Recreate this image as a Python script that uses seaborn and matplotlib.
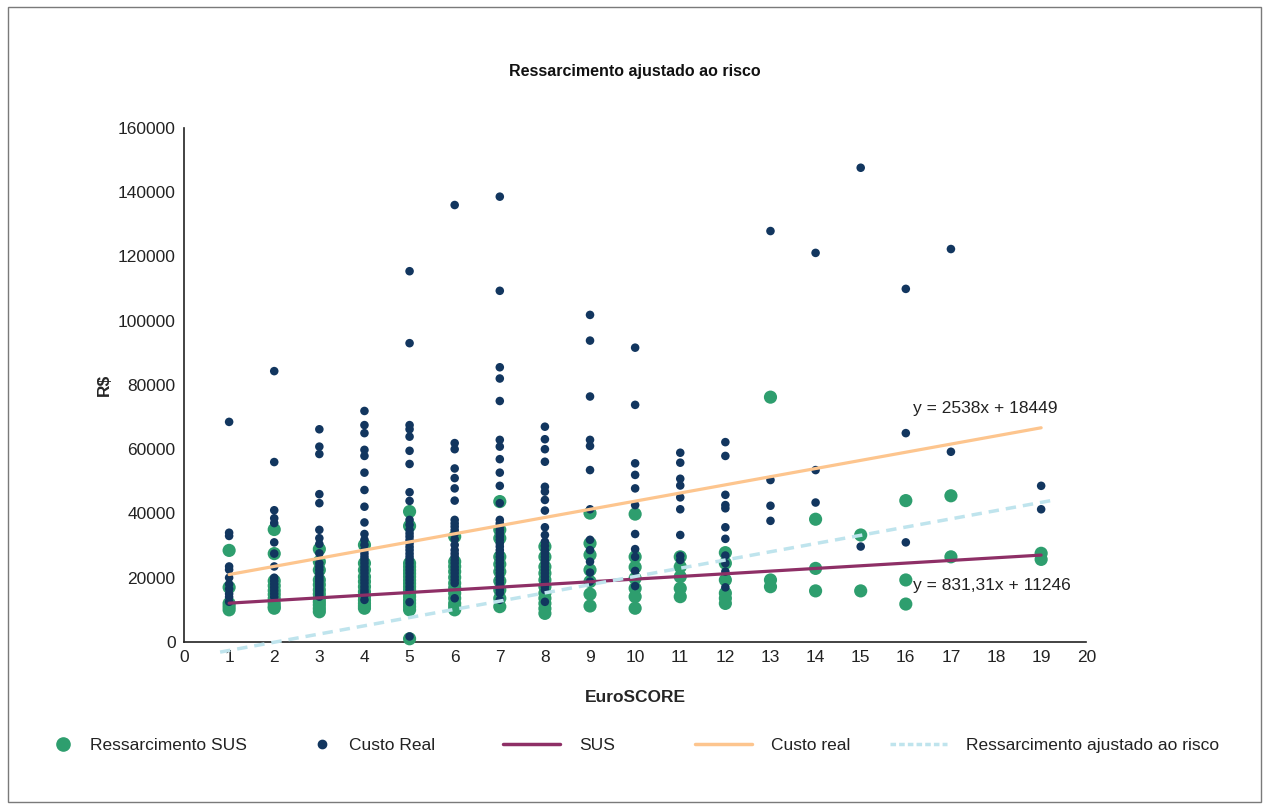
import matplotlib
matplotlib.use("Agg")
import matplotlib.pyplot as plt
from matplotlib.patches import Rectangle
from matplotlib.lines import Line2D
import numpy as np
import pandas as pd
import seaborn as sns

# Reimbursement paid by SUS per EuroSCORE value (R$)
sus_by_score = {
    1: [28500, 17000, 12000, 11000, 10000],
    2: [35000, 27500, 19000, 17500, 16000, 14800, 13500, 12000, 11000, 10500],
    3: [28900, 25000, 22400, 19300, 17800, 16200, 14900, 13600, 12500, 11500,
        10400, 9400],
    4: [30200, 24500, 22400, 20300, 18800, 17200, 15600, 14100, 13000, 12000,
        11200, 10500],
    5: [40600, 36100, 24500, 23400, 22300, 21300, 20300, 19200, 18200, 17200,
        16200, 15200, 14100, 13000, 12000, 11000, 10000, 1000],
    6: [32800, 25000, 23500, 21900, 20100, 18300, 16800, 15200, 13600, 12000,
        11000, 10000],
    7: [43700, 34900, 32300, 26500, 24200, 21900, 19000, 16200, 13600, 11000],
    8: [29700, 26500, 23400, 21400, 19300, 17200, 15200, 13600, 12000, 10400,
        8900],
    9: [40100, 30700, 27100, 22400, 18800, 14900, 11200],
    10: [39800, 26500, 23300, 19800, 16700, 14100, 10500],
    11: [26500, 23400, 20300, 16700, 14100],
    12: [27800, 24500, 19300, 15200, 13600, 12000],
    13: [76200, 19300, 17200],
    14: [38200, 22900, 15900],
    15: [33300, 15900],
    16: [44000, 19300, 11800],
    17: [45500, 26500],
    19: [27600, 25700],
}

# Real cost of each case per EuroSCORE value (R$)
custo_by_score = {
    1: [68500, 34000, 33000, 23500, 22500, 20000, 18000, 16500, 15000, 14000, 12500],
    2: [84300, 56000, 41000, 38500, 37000, 31000, 27500, 23500, 20000, 19000,
        18000, 17000, 16000, 15000, 14000],
    3: [66200, 60800, 58500, 46000, 43200, 34900, 32300, 30500, 27600, 24500,
        23400, 22400, 21300, 20300, 19500, 18800, 18000, 17200, 16400, 15700,
        14900, 14100],
    4: [71900, 67500, 65000, 59800, 57900, 52700, 47300, 42100, 37200, 33600,
        31800, 30200, 28600, 27500, 26500, 25500, 24500, 23400, 22400, 21400,
        20300, 19300, 18300, 17200, 16200, 15400, 14600, 13100],
    5: [115400, 93000, 67500, 66200, 63900, 59500, 55400, 46600, 43900, 38000,
        36500, 34900, 33800, 32800, 31700, 30700, 29600, 28600, 27500, 26500,
        25500, 24500, 23400, 22400, 21400, 20300, 19300, 18300, 17200, 16200,
        12400, 1700],
    6: [136000, 61900, 60000, 54000, 51000, 47800, 44000, 38000, 36900, 35900,
        34800, 33800, 32000, 30200, 28600, 27500, 26500, 25500, 24500, 23400,
        22400, 21400, 20300, 19300, 18300, 13600],
    7: [138600, 109300, 85500, 82000, 75000, 62900, 60800, 56900, 52700, 48600,
        43200, 38000, 36900, 35900, 34800, 33800, 32800, 31800, 30700, 29700,
        28600, 27600, 26500, 25500, 24500, 23400, 22400, 21400, 20300, 19300,
        18300, 17200, 16200, 15200, 13100],
    8: [67000, 63100, 60000, 56100, 48300, 46800, 44200, 40900, 35700, 33300,
        31200, 29900, 28600, 27500, 26500, 25500, 24500, 23400, 22400, 21400,
        20300, 19300, 18300, 17200, 16200, 12500],
    9: [101800, 93800, 76400, 62900, 61000, 53500, 41300, 31800, 28600, 25000,
        21600, 18800],
    10: [91600, 73800, 55600, 52000, 47800, 42600, 33600, 28900, 26500, 22100, 17400],
    11: [58900, 55800, 50800, 48700, 45000, 41300, 33300, 26800, 25500],
    12: [62200, 57900, 45800, 42600, 41600, 35700, 32100, 26900, 24500, 21900, 17000],
    13: [127900, 50400, 42400, 37700],
    14: [121100, 53500, 43400],
    15: [147600, 29700],
    16: [109900, 65000, 31000],
    17: [122300, 59200],
    19: [48600, 41300],
}

# Linear trend lines: (slope, intercept, x start, x end)
sus_trend = (831.31, 11246, 1, 19)
custo_trend = (2538, 18449, 1, 19)
ajuste_risco_trend = (2560, -5200, 0.8, 19.3)

x_ticks = list(range(0, 21))
y_ticks = list(range(0, 160001, 20000))

COL_SUS = "#2e9e6e"
COL_CUSTO = "#12365f"
COL_SUS_LINE = "#8e2f66"
COL_CUSTO_LINE = "#fdc58e"
COL_AJUSTE = "#bfe4ed"


def to_frame(by_score):
    rows = [(k, v) for k, vals in by_score.items() for v in vals]
    return pd.DataFrame(rows, columns=["EuroSCORE", "R$"])


def trend_frame(coef):
    a, b, x0, x1 = coef
    xs = np.array([x0, x1])
    return pd.DataFrame({"EuroSCORE": xs, "R$": a * xs + b})


sns.set_theme(style="white")
plt.rcParams["font.family"] = ["Liberation Sans", "DejaVu Sans"]

fig = plt.figure(figsize=(12.69, 8.07), dpi=100)
ax = fig.add_axes([0.145, 0.2045, 0.711, 0.637])

df_sus = to_frame(sus_by_score)
df_custo = to_frame(custo_by_score)

sns.scatterplot(data=df_sus, x="EuroSCORE", y="R$", ax=ax, color=COL_SUS,
                s=90, edgecolor="none", zorder=3, clip_on=False)
sns.scatterplot(data=df_custo, x="EuroSCORE", y="R$", ax=ax, color=COL_CUSTO,
                s=38, edgecolor="none", zorder=4, clip_on=False)

sns.lineplot(data=trend_frame(sus_trend), x="EuroSCORE", y="R$", ax=ax,
             color=COL_SUS_LINE, linewidth=2.3, zorder=5)
sns.lineplot(data=trend_frame(custo_trend), x="EuroSCORE", y="R$", ax=ax,
             color=COL_CUSTO_LINE, linewidth=2.3, zorder=5)
aj = sns.lineplot(data=trend_frame(ajuste_risco_trend), x="EuroSCORE", y="R$",
                  ax=ax, color=COL_AJUSTE, linewidth=2.5, zorder=5)
aj.lines[-1].set_linestyle((0, (3, 2)))
aj.lines[-1].set_clip_on(False)

ax.set_xlim(0, 20)
ax.set_ylim(0, 160000)
ax.set_xticks(x_ticks)
ax.set_yticks(y_ticks)
ax.set_xticklabels([str(t) for t in x_ticks])
ax.set_yticklabels([str(t) for t in y_ticks])
ax.tick_params(axis="both", direction="in", length=5, width=1.1,
               colors="#222222", labelsize=12.5, pad=6)
for side in ("top", "right"):
    ax.spines[side].set_visible(False)
for side in ("left", "bottom"):
    ax.spines[side].set_color("#222222")
    ax.spines[side].set_linewidth(1.2)

ax.set_xlabel("EuroSCORE", fontsize=12.5, fontweight="bold", labelpad=18)
ax.set_ylabel("R$", fontsize=12.5, fontweight="bold", labelpad=4)

ax.text(16.15, 72800, "y = 2538x + 18449", fontsize=12.5, color="#222222",
        ha="left", va="center", zorder=6)
ax.text(16.15, 17600, "y = 831,31x + 11246", fontsize=12.5, color="#222222",
        ha="left", va="center", zorder=6)

fig.text(0.5, 0.911, "Ressarcimento ajustado ao risco", fontsize=11.5,
         fontweight="bold", ha="center", va="center", color="#111111")

# Legend entries laid out in one row beneath the axes
legend_entries = [
    (Line2D([], [], marker="o", linestyle="none", color=COL_SUS, markersize=9.5),
     "Ressarcimento SUS", 54, 1.0),
    (Line2D([], [], marker="o", linestyle="none", color=COL_CUSTO, markersize=6),
     "Custo Real", 313, 1.0),
    (Line2D([], [], color=COL_SUS_LINE, linewidth=2.5), "SUS", 503, 3.3),
    (Line2D([], [], color=COL_CUSTO_LINE, linewidth=2.5), "Custo real", 695, 3.3),
    (Line2D([], [], color=COL_AJUSTE, linewidth=2.5, linestyle=(0, (1.6, 0.9))),
     "Ressarcimento ajustado ao risco", 890, 3.3),
]
W, H = 1269, 807
for handle, label, x_px, hl in legend_entries:
    leg = fig.legend([handle], [label], loc="center left",
                     bbox_to_anchor=(x_px / W, 1 - 745 / H), frameon=False,
                     fontsize=12.5, handlelength=hl, handletextpad=1.1,
                     borderpad=0, borderaxespad=0)
    for t in leg.get_texts():
        t.set_color("#222222")

fig.add_artist(Rectangle((0.0065, 0.006), 0.987, 0.985, transform=fig.transFigure,
                         fill=False, edgecolor="#7a7a7a", linewidth=1.0))

fig.savefig("out.png", dpi=100)
